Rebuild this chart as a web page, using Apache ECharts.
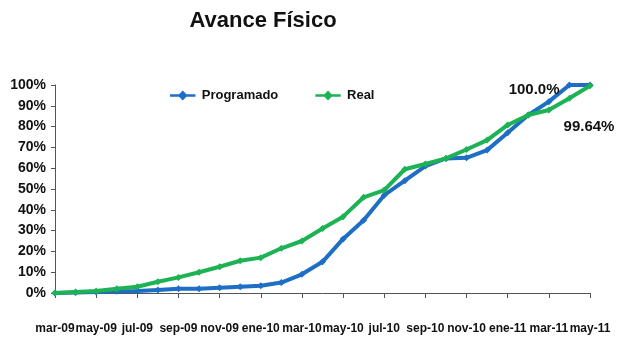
<!DOCTYPE html>
<html>
<head>
<meta charset="utf-8">
<script src="https://cdn.jsdelivr.net/npm/echarts@6/dist/echarts.min.js"></script>
<style>html,body{margin:0;padding:0;background:#fff}#c{width:618px;height:341px}</style>
</head>
<body>
<div id="c"></div>
<script>
const categories = ["mar-09","abr-09","may-09","jun-09","jul-09","ago-09","sep-09","oct-09","nov-09","dic-09","ene-10","feb-10","mar-10","abr-10","may-10","jun-10","jul-10","ago-10","sep-10","oct-10","nov-10","dic-10","ene-11","feb-11","mar-11","abr-11","may-11"];
const programado = [0, 0.3, 0.5, 0.8, 1, 1.5, 2, 2, 2.5, 3, 3.5, 5, 9, 15, 26, 35, 47, 54, 61, 64.7, 65, 68.7, 77, 85.6, 92, 100, 100];
const real = [0, 0.5, 1, 2, 3, 5.4, 7.5, 10, 12.6, 15.5, 17, 21.5, 25, 31, 36.7, 46, 49.5, 59.5, 62, 64.7, 69, 73.5, 80.8, 85.6, 88, 93.6, 99.64];
const labelProg = "100.0%";
const labelReal = "99.64%";

const font = "'Liberation Sans', Arial, sans-serif";
const chart = echarts.init(document.getElementById('c'), null, {renderer:'canvas'});
const progData = programado.map((v,i)=> i===programado.length-1 ? {value:v, label:{show:true, formatter:labelProg, position:'left', distance:27, offset:[0,5]}} : v);
const realData = real.map((v,i)=> i===real.length-1 ? {value:v, label:{show:true, formatter:labelReal, position:'bottom', distance:30, offset:[-1,0]}} : v);
const icon = 'path://M0,4 L10,4 L14,0 L18,4 L28,4 L28,7 L18,7 L14,11 L10,7 L0,7 Z';
chart.setOption({
  animation:false,
  title:{text:'Avance Físico', left:258, textAlign:'center', top:5, textStyle:{fontFamily:font, fontWeight:'bold', fontSize:22, color:'#111'}},
  legend:{left:165, top:84, itemWidth:28, itemHeight:10, itemGap:37,
    textStyle:{fontFamily:font, fontWeight:'bold', fontSize:13, color:'#111'},
    data:[{name:'Programado', icon:icon},{name:'Real', icon:icon}]},
  grid:{left:55, right:28, top:85, bottom:48, containLabel:false},
  xAxis:{type:'category', data:categories, boundaryGap:false,
    axisLine:{lineStyle:{color:'#555', width:1}},
    axisTick:{show:true, interval:1, length:5, lineStyle:{color:'#555'}},
    axisLabel:{interval:1, showMinLabel:true, showMaxLabel:true, hideOverlap:false, margin:30, fontFamily:font, fontWeight:'bold', fontSize:12, color:'#111'}},
  yAxis:{type:'value', min:0, max:100, interval:10,
    axisLine:{show:true, lineStyle:{color:'#555', width:1}},
    axisTick:{show:true, length:4, lineStyle:{color:'#555'}},
    splitLine:{show:false},
    axisLabel:{margin:9, fontFamily:font, fontWeight:'bold', fontSize:14, color:'#111', formatter:v=>v+'%'}},
  series:[
    {name:'Programado', type:'line', data:progData, color:'#1d6ec4',
      lineStyle:{width:4, color:'#1d6ec4'}, symbol:'diamond', symbolSize:7, itemStyle:{color:'#1d6ec4'},
      label:{show:false, fontFamily:font, fontWeight:'bold', fontSize:15, color:'#111'}, z:2},
    {name:'Real', type:'line', data:realData, color:'#1db254',
      lineStyle:{width:4, color:'#1db254'}, symbol:'diamond', symbolSize:7, itemStyle:{color:'#1db254'},
      label:{show:false, fontFamily:font, fontWeight:'bold', fontSize:15, color:'#111'}, z:3}
  ]
});
</script>
</body>
</html>
